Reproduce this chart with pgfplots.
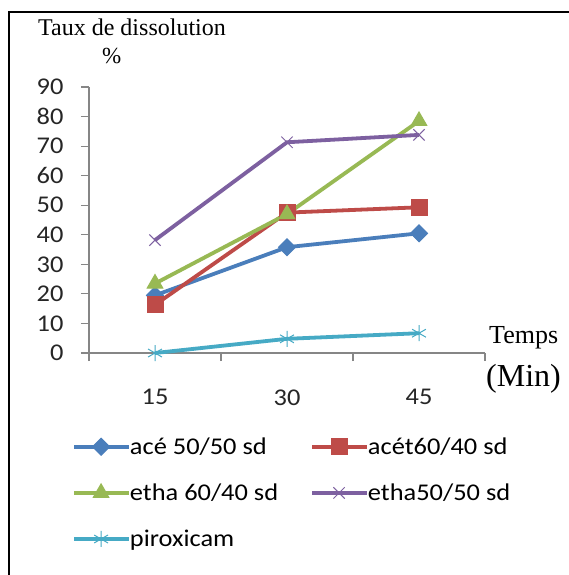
\documentclass[border=0pt]{standalone}
\usepackage{fontspec}
\setmainfont{Carlito}[FakeStretch=1.1]
\newfontfamily\serif{Liberation Serif}
\usepackage{pgfplots}
\pgfplotsset{compat=1.18}
\definecolor{cblue}{HTML}{4A7EBB}
\definecolor{cred}{HTML}{BE4B48}
\definecolor{cgreen}{HTML}{98B954}
\definecolor{cpurple}{HTML}{7D60A0}
\definecolor{ccyan}{HTML}{46AAC5}
\definecolor{axgray}{HTML}{868686}
\begin{document}
\begin{tikzpicture}
\path[use as bounding box] (0pt,0pt) rectangle (569pt,-575pt);
\fill[white] (0pt,0pt) rectangle (569pt,-575pt);
\draw[line width=2.5pt] (9pt,-576pt) -- (9pt,-12pt) -- (570pt,-12pt);
\node[anchor=base west, font=\serif\fontsize{24}{26}\selectfont, inner sep=0pt] at (38pt,-36pt) {Taux de dissolution};
\node[anchor=base west, font=\serif\fontsize{23}{26}\selectfont, inner sep=0pt] at (102pt,-64pt) {\%};
\node[anchor=base west, font=\serif\fontsize{26}{28}\selectfont, inner sep=0pt] at (489pt,-343pt) {Temps};
\node[anchor=base west, font=\serif\fontsize{32}{34}\selectfont, inner sep=0pt] at (486pt,-386pt) {(Min)};
\begin{axis}[
  at={(89pt,-353pt)}, anchor=south west,
  scale only axis, width=396pt, height=266pt,
  xmin=-0.5, xmax=2.5, ymin=0, ymax=90,
  axis lines*=left,
  axis line style={draw=axgray, line width=1.2pt},
  every tick/.style={draw=axgray, line width=1.2pt},
  tick align=outside,
  major tick length=8pt,
  xtick={-0.5,0.5,1.5,2.5},
  x tick label as interval,
  xticklabels={15,30,45},
  ytick={0,10,...,90},
  /pgf/number format/assume math mode=true,
  tick label style={font=\fontsize{24}{26}\selectfont, text=black!85},
  xticklabel style={yshift=-25pt},
  yticklabel style={xshift=-14pt},
  clip=false,
  legend columns=2,
  legend style={at={(-0.043,-0.31)}, anchor=north west, draw=none, fill=none,
    font=\fontsize{24}{26}\selectfont, inner sep=0pt, row sep=24pt,
    /tikz/every odd column/.style={column sep=-3pt},
    /tikz/every even column/.style={column sep=30pt}},
  legend cell align=left,
  legend image code/.code={
    \draw[mark repeat=2,mark phase=2] plot coordinates {(0pt,0pt) (27pt,0pt) (55pt,0pt)};},
  every axis plot/.append style={line width=3.8pt},
]
\addplot[cblue, mark=square*, mark size=6pt, mark options={rotate=45, solid, line width=1pt, fill=cblue}]
  coordinates {(0,19.5) (1,35.8) (2,40.5)};
\addlegendentry{acé 50/50 sd}
\addplot[cred, mark=square*, mark size=8pt, mark options={solid, line width=1pt, fill=cred}]
  coordinates {(0,16.3) (1,47.5) (2,49.3)};
\addlegendentry{acét60/40 sd}
\addplot[cgreen, mark=triangle*, mark size=9pt, mark options={solid, line width=1pt, fill=cgreen}]
  coordinates {(0,23.5) (1,47) (2,78.5)};
\addlegendentry{etha 60/40 sd}
\addplot[cpurple, mark=x, mark size=8pt, mark options={solid, line width=1pt}]
  coordinates {(0,38.2) (1,71.3) (2,73.8)};
\addlegendentry{etha50/50 sd}
\addplot[ccyan, mark=asterisk, mark size=8pt, mark options={solid, line width=1pt}]
  coordinates {(0,0) (1,4.8) (2,6.7)};
\addlegendentry{piroxicam}
\end{axis}
\end{tikzpicture}
\end{document}
